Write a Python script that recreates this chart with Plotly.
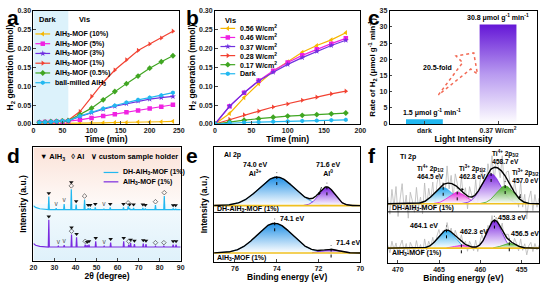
import numpy as np
import plotly.graph_objects as go

W, H = 546, 286
FONT = "Arial, Liberation Sans, sans-serif"

# ---------------- panel a data ----------------
t_a = [10, 20, 30, 40, 50, 60, 80, 100, 120, 140, 160, 180, 200, 220, 240]
a_10 = [0.001, 0.001, 0.001, 0.002, 0.002, 0.002, 0.002, 0.003, 0.003, 0.004, 0.004, 0.005, 0.005, 0.006, 0.007]
a_5 = [0.004, 0.005, 0.005, 0.006, 0.006, 0.007, 0.011, 0.016, 0.021, 0.026, 0.031, 0.036, 0.041, 0.046, 0.051]
a_3 = [0.004, 0.005, 0.006, 0.006, 0.007, 0.008, 0.020, 0.030, 0.039, 0.047, 0.054, 0.061, 0.066, 0.070, 0.073]
a_1 = [0.004, 0.005, 0.006, 0.007, 0.008, 0.010, 0.033, 0.073, 0.110, 0.143, 0.170, 0.195, 0.212, 0.228, 0.246]
a_05 = [0.004, 0.005, 0.006, 0.007, 0.008, 0.009, 0.025, 0.042, 0.064, 0.086, 0.107, 0.127, 0.148, 0.165, 0.181]
a_bm = [0.004, 0.005, 0.006, 0.007, 0.008, 0.009, 0.021, 0.032, 0.041, 0.049, 0.057, 0.064, 0.070, 0.076, 0.083]
a_names = ["AlH<sub>3</sub>-MOF (10%)", "AlH<sub>3</sub>-MOF (5%)", "AlH<sub>3</sub>-MOF (3%)",
           "AlH<sub>3</sub>-MOF (1%)", "AlH<sub>3</sub>-MOF (0.5%)", "ball-milled AlH<sub>3</sub>"]
dark_end = 60

# ---------------- panel b data ----------------
t_b = [0, 20, 40, 60, 80, 100, 120, 140, 160, 180]
b_056 = [0, 0.028, 0.070, 0.107, 0.140, 0.165, 0.190, 0.208, 0.223, 0.242]
b_046 = [0, 0.047, 0.083, 0.115, 0.141, 0.163, 0.182, 0.198, 0.213, 0.227]
b_037 = [0, 0.047, 0.083, 0.114, 0.137, 0.158, 0.176, 0.193, 0.208, 0.222]
b_028 = [0, 0.012, 0.024, 0.034, 0.045, 0.053, 0.063, 0.071, 0.080, 0.087]
b_017 = [0, 0.006, 0.010, 0.014, 0.018, 0.021, 0.023, 0.025, 0.027, 0.029]
b_dark = [0, 0.003, 0.004, 0.005, 0.006, 0.007, 0.008, 0.009, 0.010, 0.011]
b_names = ["0.56 W/cm<sup>2</sup>", "0.46 W/cm<sup>2</sup>", "0.37 W/cm<sup>2</sup>",
           "0.28 W/cm<sup>2</sup>", "0.17 W/cm<sup>2</sup>", "Dark"]

# ---------------- panel c data ----------------
c_cats = ["dark", "0.37 W/cm<sup>2</sup>"]
c_vals = [1.5, 30.8]
c_fold = "20.5-fold"

# ---------------- panel d data (XRD) ----------------
d_pos_top = [27.3, 30.8, 34.6, 38.0, 40.3, 44.3, 46.0, 47.0, 49.4, 53.5, 56.5, 62.8, 65.0, 65.7, 67.6, 72.0, 73.2, 78.0, 82.2, 86.4, 87.6]
d_h_top = [0.115, 0.012, 0.05, 0.18, 0.045, 0.09, 0.012, 0.012, 0.02, 0.008, 0.02, 0.02, 0.03, 0.015, 0.015, 0.015, 0.01, 0.04, 0.12, 0.008, 0.008]
d_kind_top = ['h', 's', 's', 'ah', 'h', 'a', 'h', 'h', 'h', 's', 'h', 'h', 'a', 'h', 'h', 'h', 'h', 'a', 'a', 'h', 'h']
d_base_top = 0.45
d_start_top = [0.035, 0.02, 0.008, 0.0]
d_pos_bot = [27.3, 31.8, 34.6, 38.1, 40.5, 44.6, 45.5, 46.4, 49.6, 53.6, 56.7, 62.9, 65.3, 66.2, 68.0, 72.2, 73.5, 78.0, 82.0, 86.4, 87.8]
d_h_bot = [0.24, 0.008, 0.015, 0.11, 0.085, 0.02, 0.015, 0.02, 0.05, 0.008, 0.04, 0.05, 0.02, 0.035, 0.025, 0.03, 0.025, 0.008, 0.008, 0.02, 0.02]
d_kind_bot = ['h', 's', 's', 'ah', 'h', 'a', 'h', 'h', 'h', 's', 'h', 'h', 'a', 'h', 'h', 'h', 'h', 'a', 'a', 'h', 'h']
d_base_bot = 0.12
d_start_bot = [0.03, 0.015, 0.006, 0.0]
d_start_x = [20, 21, 23, 26]
d_names = ["DH-AlH<sub>3</sub>-MOF (1%)", "AlH<sub>3</sub>-MOF (1%)"]

# ---------------- panel e data (Al 2p) ----------------
e_top_c = [74.0, 71.6]; e_top_h = [0.50, 0.32]; e_top_s = [0.85, 0.38]; e_top_base = 0.98
e_bot_c = [74.1, 71.4]; e_bot_h = [0.52, 0.06]; e_bot_s = [0.85, 0.40]; e_bot_base = 0.15
e_colors = ["#1e8fe6", "#7a1fe0"]

# ---------------- panel f data (Ti 2p) ----------------
f_top_c = [464.5, 462.8, 458.7, 457.0]; f_top_h = [0.28, 0.20, 0.52, 0.31]; f_top_s = [1.15, 1.05, 1.15, 1.05]; f_top_base = 1.02
f_bot_c = [464.1, 462.3, 458.3, 456.5]; f_bot_h = [0.31, 0.05, 0.48, 0.085]; f_bot_s = [1.0, 0.8, 0.85, 0.8]; f_bot_base = 0.25
f_colors = ["#23a6ec", "#e424d8", "#7a22e0", "#44a824"]
f_noise_top = [0.12, -0.18, 0.25, -0.05, 0.30, -0.22, 0.08, 0.35, -0.10, 0.15, -0.25, 0.20, 0.05, -0.15, 0.28,
               -0.08, 0.10, -0.20, 0.32, -0.12, 0.18, -0.06, 0.22, -0.28, 0.10, 0.26, -0.14, 0.04, -0.20, 0.30,
               -0.10, 0.14, -0.24, 0.20, 0.06, -0.16, 0.24, -0.08, 0.12, -0.22, 0.18, 0.02, -0.12, 0.26, -0.18,
               0.08, 0.30, -0.06, -0.20, 0.16, -0.10, 0.22, -0.26, 0.12, 0.04, -0.14, 0.28, -0.20, 0.10, 0.18,
               -0.08, -0.24, 0.20, 0.06, -0.16, 0.32, -0.10, 0.14, -0.28, 0.08, 0.22, -0.12, 0.16, -0.06, 0.10]
f_noise_bot = [0.05, -0.08, 0.12, -0.03, 0.09, -0.10, 0.04, 0.14, -0.06, 0.08, -0.12, 0.10, 0.02, -0.07, 0.13,
               -0.04, 0.06, -0.11, 0.15, -0.05, 0.09, -0.03, 0.11, -0.13, 0.05, 0.12, -0.07, 0.02, -0.09, 0.13,
               -0.05, 0.07, -0.12, 0.10, 0.03, -0.08, 0.12, -0.04, 0.06, -0.10, 0.09, 0.01, -0.06, 0.12, -0.09,
               0.04, 0.14, -0.03, -0.10, 0.08, -0.05, 0.11, -0.12, 0.06, 0.02, -0.07, 0.13, -0.10, 0.05, 0.09,
               -0.04, -0.11, 0.10, 0.03, -0.08, 0.14, -0.05, 0.07, -0.12, 0.04, 0.10, -0.06, 0.08, -0.03, 0.05]

# ---------------- colours ----------------
C_OR, C_MG, C_PU, C_RD, C_GR, C_CY = "#f6b600", "#f022e2", "#7030e0", "#f24232", "#40a622", "#22b8f0"
a_colors = [C_OR, C_MG, C_PU, C_RD, C_GR, C_CY]
a_symbols = ["triangle-left", "square", "star", "triangle-right", "diamond", "hexagon"]
d_colors = [C_CY, "#7a2ae0"]


def xd(l, r):
    return [l / W, r / W]


def yd(t, b):
    return [1 - b / H, 1 - t / H]


def axis(domain, rng, anchor, dtick=None, title="", showlabels=True, tfs=8.5, **kw):
    d = dict(domain=domain, range=rng, anchor=anchor, showline=True, linecolor="black", linewidth=1,
             mirror=True, ticks="inside" if showlabels else "", ticklen=2.5, tickwidth=1, showgrid=False,
             zeroline=False, showticklabels=showlabels,
             tickfont=dict(size=7, family=FONT, color="#222", weight="bold"),
             title=dict(text=title, font=dict(size=tfs, family=FONT, color="black", weight="bold")))
    if dtick is not None:
        d["dtick"] = dtick
    d.update(kw)
    return d


fig = go.Figure()
ann = []


def note(text, x, y, xref, yref, size=7, xanchor="center", yanchor="middle", **kw):
    ann.append(dict(text=text, x=x, y=y, xref=xref, yref=yref, showarrow=False, xanchor=xanchor, yanchor=yanchor,
                    font=dict(size=size, family=FONT, color="black", weight="bold"), **kw))


def arrow_note(text, x, y, ax, ay, xr, yr, size=7):
    ann.append(dict(text=text, x=x, y=y, ax=ax, ay=ay, xref=xr, yref=yr, axref=xr, ayref=yr, showarrow=True,
                    arrowhead=2, arrowsize=0.7, arrowwidth=0.8, arrowcolor="black", standoff=0, startstandoff=9,
                    font=dict(size=size, family=FONT, color="black", weight="bold")))


# ======== panel a ========
for name, ys, col, sym in zip(a_names, [a_10, a_5, a_3, a_1, a_05, a_bm], a_colors, a_symbols):
    fig.add_trace(go.Scatter(x=t_a, y=ys, name=name, mode="lines+markers", xaxis="x", yaxis="y",
                             line=dict(color=col, width=1.2), marker=dict(color=col, size=4.5, symbol=sym),
                             showlegend=False))

# ======== panel b ========
for name, ys, col, sym in zip(b_names, [b_056, b_046, b_037, b_028, b_017, b_dark], a_colors, a_symbols):
    fig.add_trace(go.Scatter(x=t_b, y=ys, name=name, mode="lines+markers", xaxis="x2", yaxis="y2",
                             line=dict(color=col, width=1.2), marker=dict(color=col, size=4.5, symbol=sym),
                             showlegend=False))

# ======== panel c ========
bw = 0.5
fig.add_trace(go.Bar(x=[0], y=[c_vals[0]], width=bw, marker=dict(color=C_CY, line=dict(width=0)),
                     xaxis="x3", yaxis="y3", showlegend=False))
fig.add_trace(go.Scatter(x=[1 - bw / 2, 1 - bw / 2, 1 + bw / 2, 1 + bw / 2, 1 - bw / 2],
                         y=[0, c_vals[1], c_vals[1], 0, 0], fill="toself", mode="none",
                         fillgradient=dict(type="vertical", colorscale=[[0, "rgba(255,255,255,1)"], [0.5, "#b89af0"], [1, "#6416d6"]]),
                         xaxis="x3", yaxis="y3", showlegend=False))

# ======== panel d ========
fig.add_trace(go.Scatter(x=[20, 90, 90, 20, 20], y=[0.5, 0.5, 1, 1, 0.5], fill="toself", mode="none",
                         fillgradient=dict(type="vertical", colorscale=[[0, "#fefaf8"], [1, "#fbe2d8"]]),
                         xaxis="x4", yaxis="y4", showlegend=False))
fig.add_trace(go.Scatter(x=[20, 90, 90, 20, 20], y=[0, 0, 0.5, 0.5, 0], fill="toself", mode="none",
                         fillgradient=dict(type="vertical", colorscale=[[0, "#dff1fb"], [1, "#f3fafd"]]),
                         xaxis="x4", yaxis="y4", showlegend=False))


def xrd_line(pos, hts, base, start):
    xs = list(d_start_x)
    ys = [base + s for s in start]
    w = 0.25
    for p, h in zip(pos, hts):
        xs += [p - w, p, p + w]
        ys += [base, base + h, base]
    xs.append(90)
    ys.append(base)
    return xs, ys


def xrd_markers(pos, hts, kinds, base):
    hx, hy, ax_, ay_, sx, sy = [], [], [], [], [], []
    for p, h, k in zip(pos, hts, kinds):
        top = base + h
        if k == 'h':
            hx.append(p); hy.append(top + 0.03)
        elif k == 'a':
            ax_.append(p); ay_.append(top + 0.03)
        elif k == 'ah':
            ax_.append(p); ay_.append(top + 0.03)
            hx.append(p); hy.append(top + 0.062)
        else:
            sx.append(p); sy.append(top + 0.035)
    fig.add_trace(go.Scatter(x=hx, y=hy, mode="markers", marker=dict(symbol="triangle-down", size=4, color="#111"),
                             xaxis="x4", yaxis="y4", showlegend=False))
    fig.add_trace(go.Scatter(x=ax_, y=ay_, mode="markers",
                             marker=dict(symbol="diamond-open", size=3.5, color="#444", line=dict(width=0.7)),
                             xaxis="x4", yaxis="y4", showlegend=False))
    fig.add_trace(go.Scatter(x=sx, y=sy, mode="text", text=["v"] * len(sx),
                             textfont=dict(size=6.5, color="#555", family=FONT, weight="normal"),
                             xaxis="x4", yaxis="y4", showlegend=False))


for (pos, hts, base, start), col, nm in zip(
        [(d_pos_top, d_h_top, d_base_top, d_start_top), (d_pos_bot, d_h_bot, d_base_bot, d_start_bot)], d_colors, d_names):
    xs, ys = xrd_line(pos, hts, base, start)
    fig.add_trace(go.Scatter(x=xs, y=ys, mode="lines", line=dict(color=col, width=1.2), name=nm,
                             xaxis="x4", yaxis="y4", showlegend=False))
xrd_markers(d_pos_top, d_h_top, d_kind_top, d_base_top)
xrd_markers(d_pos_bot, d_h_bot, d_kind_bot, d_base_bot)


# ======== XPS helpers ========
def gauss(x, c, h, s):
    return h * np.exp(-0.5 * ((x - c) / s) ** 2)


def xps(xa, ya, grid, base, cs, hs, ss, colors, noise=None):
    env = base + sum(gauss(grid, c, h, s) for c, h, s in zip(cs, hs, ss))
    if noise is not None:
        nx = np.linspace(grid[0], grid[-1], len(noise))
        ny = base + sum(gauss(nx, c, h, s) for c, h, s in zip(cs, hs, ss)) + np.array(noise)
        fig.add_trace(go.Scatter(x=nx, y=ny, mode="lines", line=dict(color="#b8b8b8", width=0.8),
                                 xaxis=xa, yaxis=ya, showlegend=False))
    for c, h, s, col in zip(cs, hs, ss, colors):
        g = gauss(grid, c, h, s)
        m = g > 0.004
        gx = grid[m]
        fig.add_trace(go.Scatter(x=gx, y=np.full(gx.shape, base), mode="lines", line=dict(width=0),
                                 xaxis=xa, yaxis=ya, showlegend=False))
        fig.add_trace(go.Scatter(x=gx, y=base + g[m], mode="lines", line=dict(color=col, width=0.8),
                                 fill="tonexty",
                                 fillgradient=dict(type="vertical", colorscale=[[0, "rgba(255,255,255,0.9)"], [1, col]]),
                                 xaxis=xa, yaxis=ya, showlegend=False))
    fig.add_trace(go.Scatter(x=[grid[0], grid[-1]], y=[base, base], mode="lines", line=dict(color="#f0c020", width=1.6),
                             xaxis=xa, yaxis=ya, showlegend=False))
    fig.add_trace(go.Scatter(x=grid, y=env, mode="lines", line=dict(color="black", width=1.4),
                             xaxis=xa, yaxis=ya, showlegend=False))
    for c, h in zip(cs, hs):
        fig.add_trace(go.Scatter(x=[c, c], y=[base + h - 0.14, base + h + 0.08], mode="lines",
                                 line=dict(color="black", width=1, dash="dot"),
                                 xaxis=xa, yaxis=ya, showlegend=False))


E_RANGE = [77, 70]
F_RANGE = [471.2, 452.9]
e_grid = np.linspace(E_RANGE[0], E_RANGE[1], 400)
xps("x5", "y5", e_grid, e_top_base, e_top_c, e_top_h, e_top_s, e_colors)
xps("x5", "y5", e_grid, e_bot_base, e_bot_c, e_bot_h, e_bot_s, e_colors)

f_grid = np.linspace(F_RANGE[0], F_RANGE[1], 400)
xps("x6", "y6", f_grid, f_top_base, f_top_c, f_top_h, f_top_s, f_colors, noise=f_noise_top)
xps("x6", "y6", f_grid, f_bot_base, f_bot_c, f_bot_h, f_bot_s, f_colors, noise=f_noise_bot)


# ======== hand-drawn legends (pixel overlay axis) ========
def legend_entry(x0, y0, col, sym, text, size=7):
    fig.add_trace(go.Scatter(x=[x0, x0 + 15], y=[y0, y0], mode="lines", line=dict(color=col, width=1.2),
                             xaxis="x7", yaxis="y7", showlegend=False, hoverinfo="skip"))
    if sym:
        fig.add_trace(go.Scatter(x=[x0 + 7.5], y=[y0], mode="markers", marker=dict(color=col, size=4.5, symbol=sym),
                                 xaxis="x7", yaxis="y7", showlegend=False, hoverinfo="skip"))
    note(text, x0 + 18, y0, "x7", "y7", size=size, xanchor="left")


for i, (nm, col, sym) in enumerate(zip(a_names, a_colors, a_symbols)):
    legend_entry(32, 30.7 + 10 * i, col, sym, nm)
for i, (nm, col, sym) in enumerate(zip(b_names, a_colors, a_symbols)):
    legend_entry(220.5, 25 + 9.3 * i, col, sym, nm)
for i, (nm, col) in enumerate(zip(d_names, d_colors)):
    legend_entry(101.5, 172.7 + 9.6 * i, col, None, nm)

# ---------------- layout ----------------
AX_A = xd(30, 178); AY_TOP = yd(7, 123)
AX_B = xd(215, 363)
AX_C = xd(393, 543)
AX_D = xd(30, 180); AY_D = yd(147, 263)
AX_E = xd(214, 363); AY_E = yd(147, 264)
AX_F = xd(391, 545); AY_F = yd(147, 265)

layout = dict(
    width=W, height=H, margin=dict(l=0, r=0, t=0, b=0), paper_bgcolor="white", plot_bgcolor="rgba(0,0,0,0)",
    font=dict(family=FONT, size=7, color="black", weight="bold"),
    showlegend=False,
    xaxis=axis(AX_A, [0, 250], "y", 50, "Time (min)", title_standoff=1),
    yaxis=axis(AY_TOP, [0, 0.3], "x", 0.05, "H<sub>2</sub> generation (mmol)", tickformat=".2f", title_standoff=2),
    xaxis2=axis(AX_B, [0, 200], "y2", 50, "Time (min)", title_standoff=1),
    yaxis2=axis(AY_TOP, [0, 0.3], "x2", 0.05, "H<sub>2</sub> generation (mmol)", tickformat=".2f", title_standoff=2),
    xaxis3=axis(AX_C, [-0.47, 1.53], "y3", None, "Light Intensity", tickvals=[0, 1], ticktext=c_cats, title_standoff=1),
    yaxis3=axis(AY_TOP, [0, 35], "x3", 5, "Rate of H<sub>2</sub> (μmol g<sup>-1</sup> min<sup>-1</sup>)", tfs=8, title_standoff=2),
    xaxis4=axis(AX_D, [20, 90], "y4", 10, "2θ (degree)", title_standoff=1),
    yaxis4=axis(AY_D, [0, 1], "x4", None, "Intensity (a.u.)", showlabels=False, title_standoff=4),
    xaxis5=axis(AX_E, E_RANGE, "y5", 2, "Binding energy (eV)", title_standoff=1),
    yaxis5=axis(AY_E, [0, 2], "x5", None, "Intensity (a.u.)", showlabels=False, title_standoff=4),
    xaxis6=axis(AX_F, F_RANGE, "y6", 5, "Binding energy (eV)", title_standoff=1),
    yaxis6=axis(AY_F, [0, 2], "x6", None, "", showlabels=False),
    xaxis7=dict(domain=[0, 1], range=[0, W], anchor="y7", visible=False, fixedrange=True),
    yaxis7=dict(domain=[0, 1], range=[H, 0], anchor="x7", visible=False, fixedrange=True),
    barmode="overlay",
)
fig.update_layout(**layout)

# shapes
fig.add_shape(type="rect", xref="x", yref="y", x0=0, x1=dark_end, y0=0, y1=0.3, fillcolor="#dcf2fb",
              line=dict(width=0), layer="below")
fig.add_shape(type="line", xref="x5", yref="y5", x0=E_RANGE[0], x1=E_RANGE[1], y0=0.86, y1=0.86,
              line=dict(color="black", width=1))
fig.add_shape(type="line", xref="x6", yref="y6", x0=F_RANGE[0], x1=F_RANGE[1], y0=0.88, y1=0.88,
              line=dict(color="black", width=1))
# fold arrow (panel c)
fig.add_shape(type="path", xref="x3", yref="y3",
              path="M 0.19,9.0 L 0.52,19.0 L 0.43,21.0 L 0.67,22.0 L 0.72,15.5 L 0.63,17.0 Z",
              line=dict(color="#f26a55", width=1.5, dash="dot"))

# panel letters
for L, px, py in [("a", 1, 0), ("b", 183, 0), ("c", 369, 0), ("d", 1, 141), ("e", 183, 141), ("f", 369, 141)]:
    note(L, px / W, 1 - py / H, "paper", "paper", size=21, xanchor="left", yanchor="top")

note("Dark", 25, 0.277, "x", "y", size=7.5)
note("Vis", 88, 0.277, "x", "y", size=7.5)
note("Vis", 223, 16.7, "x7", "y7", size=7.5, xanchor="left")
note("30.8 μmol g<sup>-1</sup> min<sup>-1</sup>", 1.0, 33.0, "x3", "y3", size=7)
note("1.5 μmol g<sup>-1</sup> min<sup>-1</sup>", 0.1, 3.6, "x3", "y3", size=7)
note(c_fold, 0.18, 17.5, "x3", "y3", size=7)
note("▼ AlH<sub>3</sub>   ◊ Al   ∨ custom sample holder", 35, 157.3, "x7", "y7", size=7.5, xanchor="left")
# e
note("Al 2p", 76.6, 1.86, "x5", "y5", xanchor="left")
arrow_note("74.0 eV<br>Al<sup>3+</sup>", 74.75, 1.36, 75.05, 1.62, "x5", "y5")
arrow_note("71.6 eV<br>Al<sup>0</sup>", 72.0, 1.16, 71.55, 1.62, "x5", "y5")
note("DH-AlH<sub>3</sub>-MOF (1%)", 76.95, 0.92, "x5", "y5", xanchor="left")
note("74.1 eV", 73.95, 0.75, "x5", "y5", xanchor="left")
note("71.4 eV", 71.25, 0.33, "x5", "y5", xanchor="left")
note("AlH<sub>3</sub>-MOF (1%)", 76.95, 0.07, "x5", "y5", xanchor="left")
# f
note("Ti 2p", 470.0, 1.84, "x6", "y6", xanchor="left")
arrow_note("Ti<sup>4+</sup> 2p<sub>1/2</sub><br>464.5 eV", 464.9, 1.31, 466.0, 1.58, "x6", "y6", size=6.5)
arrow_note("Ti<sup>3+</sup> 2p<sub>1/2</sub><br>462.8 eV", 462.3, 1.24, 461.0, 1.58, "x6", "y6", size=6.5)
arrow_note("Ti<sup>4+</sup> 2p<sub>3/2</sub><br>458.7 eV", 458.9, 1.62, 457.0, 1.84, "x6", "y6", size=6.5)
arrow_note("Ti<sup>3+</sup> 2p<sub>3/2</sub><br>457.0 eV", 455.3, 1.1, 454.5, 1.5, "x6", "y6", size=6.5)
note("DH-AlH<sub>3</sub>-MOF (1%)", 470.9, 0.95, "x6", "y6", xanchor="left")
note("464.1 eV", 466.8, 0.65, "x6", "y6")
note("462.3 eV", 460.8, 0.54, "x6", "y6")
note("458.3 eV", 456.2, 0.79, "x6", "y6")
note("456.5 eV", 454.6, 0.51, "x6", "y6")
note("AlH<sub>3</sub>-MOF (1%)", 470.9, 0.17, "x6", "y6", xanchor="left")

fig.update_layout(annotations=ann)
fig.write_html("out.html")
